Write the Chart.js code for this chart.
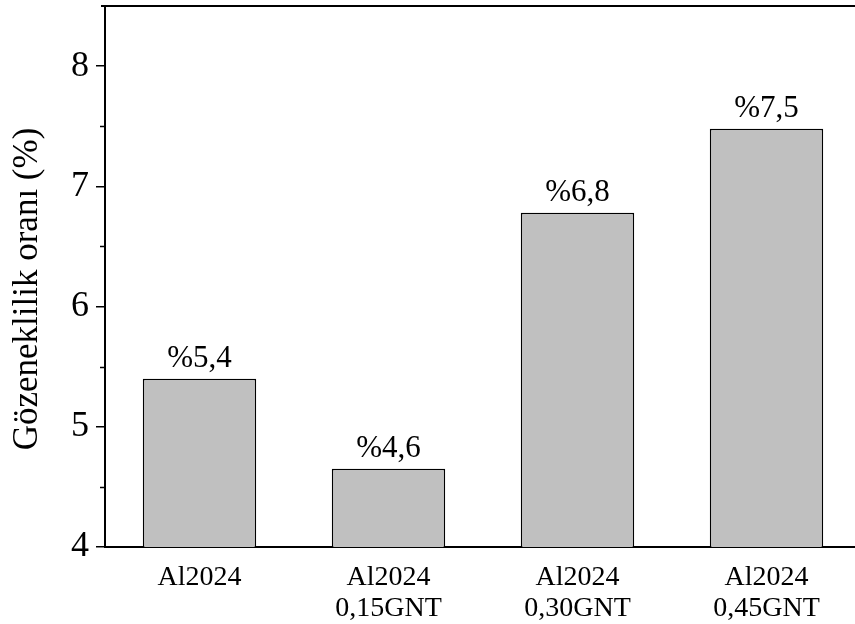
<!DOCTYPE html>
<html>
<head>
<meta charset="utf-8">
<script src="https://cdn.jsdelivr.net/npm/chart.js@4.4.1/dist/chart.umd.min.js"></script>
<style>
  html, body { margin: 0; padding: 0; background: #fff; overflow: hidden; }
  #wrap { width: 862px; height: 624px; }
</style>
</head>
<body>
<div id="wrap"><canvas id="c" width="862" height="624"></canvas></div>
<script>
const categories = [["Al2024"], ["Al2024", "0,15GNT"], ["Al2024", "0,30GNT"], ["Al2024", "0,45GNT"]];
const porosity = [5.4, 4.65, 6.78, 7.48];
const valueLabels = ["%5,4", "%4,6", "%6,8", "%7,5"];
const yTickLabels = ["4", "5", "6", "7", "8"];
const yTitle = "Gözeneklilik oranı (%)";

const FONT = "'Liberation Serif', 'Times New Roman', serif";

const extras = {
  id: 'extras',
  afterDatasetsDraw(chart) {
    const ctx = chart.ctx;
    const ca = chart.chartArea;
    const y = chart.scales.y;
    ctx.save();
    // top frame line
    ctx.strokeStyle = '#000';
    ctx.lineWidth = 2;
    ctx.beginPath();
    ctx.moveTo(ca.left - 4, ca.top);
    ctx.lineTo(ca.right + 2, ca.top);
    ctx.stroke();
    // minor ticks
    ctx.lineWidth = 1.5;
    y.ticks.forEach(t => {
      if (Math.abs(t.value - Math.round(t.value)) > 1e-6 && t.value < y.max - 1e-6) {
        const py = Math.round(y.getPixelForValue(t.value)) + 0.5;
        ctx.beginPath();
        ctx.moveTo(ca.left - 5, py);
        ctx.lineTo(ca.left, py);
        ctx.stroke();
      }
    });
    // value labels
    ctx.fillStyle = '#000';
    ctx.font = "31px " + FONT;
    ctx.textAlign = 'center';
    ctx.textBaseline = 'alphabetic';
    const meta = chart.getDatasetMeta(0);
    meta.data.forEach((bar, i) => {
      ctx.fillText(valueLabels[i], bar.x, bar.y - 12);
    });
    // y-axis title
    ctx.translate(28, 289);
    ctx.rotate(-Math.PI / 2);
    ctx.font = "35px " + FONT;
    ctx.textBaseline = 'middle';
    ctx.fillText(yTitle, 0, 0);
    ctx.restore();
  }
};

new Chart(document.getElementById('c'), {
  type: 'bar',
  data: {
    labels: categories,
    datasets: [{
      data: porosity,
      backgroundColor: '#c0c0c0',
      borderColor: '#000',
      borderWidth: 1.5,
      borderSkipped: false,
      barPercentage: 0.6,
      categoryPercentage: 1.0
    }]
  },
  options: {
    responsive: false,
    animation: false,
    devicePixelRatio: 1,
    layout: { padding: { top: 6, right: 1, left: 0, bottom: 0 } },
    plugins: { legend: { display: false }, tooltip: { enabled: false } },
    scales: {
      x: {
        offset: true,
        grid: { display: false, drawTicks: false },
        border: { display: true, color: '#000', width: 2 },
        ticks: {
          color: '#000',
          font: { family: FONT, size: 28, lineHeight: 1.08 },
          padding: 16,
          maxRotation: 0,
          autoSkip: false
        },
        afterFit(s) { s.height = 77; s.paddingLeft = 0; s.paddingRight = 0; }
      },
      y: {
        min: 4,
        max: 8.5,
        grid: {
          drawOnChartArea: false,
          drawTicks: true,
          tickLength: 9,
          lineWidth: 1.5,
          color: ctx => (ctx.tick && Math.abs(ctx.tick.value - Math.round(ctx.tick.value)) < 1e-6) ? '#000' : 'rgba(0,0,0,0)'
        },
        border: { display: true, color: '#000', width: 2 },
        ticks: {
          stepSize: 0.5,
          color: '#000',
          padding: 7,
          font: { family: FONT, size: 36 },
          callback: v => {
            const i = yTickLabels.indexOf(String(v));
            return i >= 0 ? yTickLabels[i] : '';
          }
        },
        title: { display: false },
        afterFit(s) { s.width = 105; s.paddingTop = 0; s.paddingBottom = 0; }
      }
    }
  },
  plugins: [extras]
});
</script>
</body>
</html>
